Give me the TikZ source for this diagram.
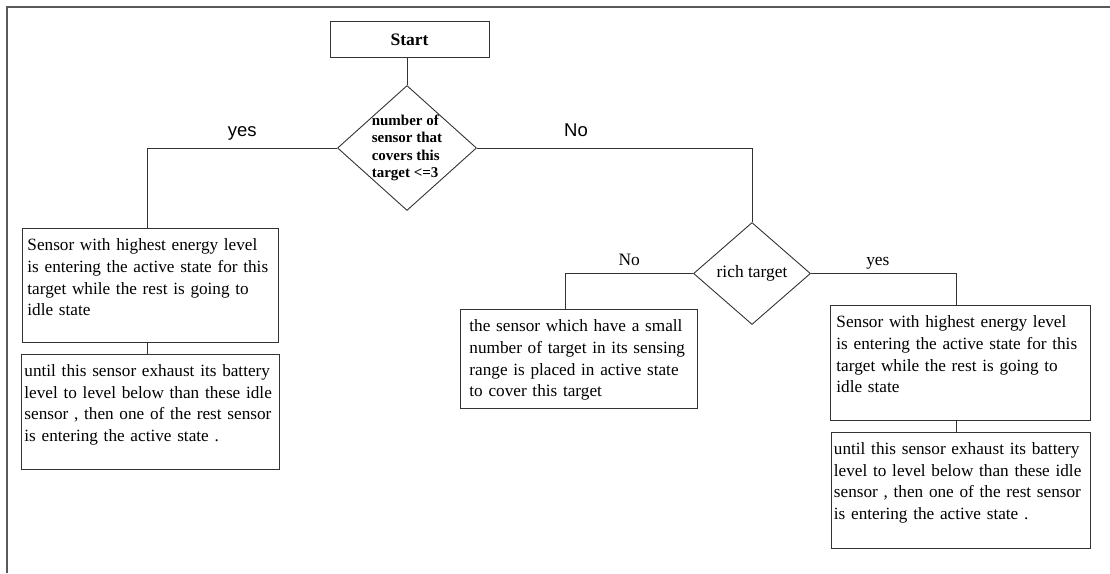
\documentclass[tikz,border=0pt]{standalone}
\usepackage{fontspec}
\setmainfont{Liberation Serif}
\newfontfamily\labelfont{Liberation Sans}
\usetikzlibrary{positioning}
\usetikzlibrary{shapes.geometric}
\tikzset{node distance=11pt, % gap between the stacked boxes
  every node/.style={align=center},
  wire/.style={draw=black!80, line width=0.9pt},
  startbox/.style={ % the Start box
    draw=black!80, line width=0.9pt, rectangle,
    minimum width=159pt, minimum height=36pt,
    font=\fontsize{17.5}{20}\selectfont\bfseries},
  decision/.style={ % diamonds, text may poke out
    draw=black!80, line width=0.9pt, diamond, inner sep=-6pt},
  textbox/.style={ % text starts at the top of the box
    draw=black!80, line width=0.9pt, rectangle, align=left,
    inner ysep=0pt, text height=22pt,
    font=\fontsize{17.2}{21.8}\selectfont},
  sanslabel/.style={font=\labelfont\fontsize{18.5}{20}\selectfont,
    anchor=base, yshift=12pt, inner sep=0pt},
  seriflabel/.style={font=\fontsize{17.4}{20}\selectfont,
    anchor=base, yshift=8pt, inner sep=0pt}}
\begin{document}
\begin{tikzpicture}[x=1pt, y=-1pt]
  \useasboundingbox (0,0) rectangle (1110,573);
  % page frame
  \draw[black!65, line width=1.2pt] (7,573) -- (7,7) -- (1110,7);

  \node [startbox] (qstart) at (409.5,39.5) {Start};
  \node [decision, minimum width=139pt, minimum height=125pt, align=left,
    font=\fontsize{15}{17.4}\selectfont\bfseries] (qcount) at (407,148)
    {number of\\sensor that\\covers this\\target <=3};
  \node [decision, minimum width=117pt, minimum height=102pt,
    font=\fontsize{17.4}{20}\selectfont] (qrich) at (752,273.5) {rich target};

  \node [textbox, anchor=north west, text width=246pt, inner xsep=5pt, text depth=92pt] (qhighL) at (22,228)
    {Sensor with highest energy level\\is entering the active state for this\\target while the rest is going to\\idle state};
  \node [textbox, below=of qhighL, text width=252pt, inner xsep=3pt, text depth=93pt] (quntilL)
    {until this sensor exhaust its battery\\level to level below than these idle\\sensor , then one of the rest sensor\\is entering the active state .};
  \node [textbox, anchor=north west, text width=219pt, inner xsep=9pt, text depth=77pt] (qsmall) at (460,309)
    {the sensor which have a small\\number of target in its sensing\\range is placed in active state\\to cover this target};
  \node [textbox, anchor=north west, text width=248pt, inner xsep=6pt, text depth=93pt] (qhighR) at (830,305)
    {Sensor with highest energy level\\is entering the active state for this\\target while the rest is going to\\idle state};
  \node [textbox, below=of qhighR, text width=253pt, inner xsep=3pt, text depth=94pt] (quntilR)
    {until this sensor exhaust its battery\\level to level below than these idle\\sensor , then one of the rest sensor\\is entering the active state .};

  \draw [wire] (qcount.north) -- (qcount.north |- qstart.south);
  \draw [wire] (qcount.west) -| node[sanslabel, pos=0.25] {yes} ([xshift=-3pt]qhighL.north);
  \draw [wire] (qcount.east) -| node[sanslabel, pos=0.18] {No} (qrich.north);
  \draw [wire] ([xshift=-3pt]qhighL.south) -- ([xshift=-3pt]quntilL.north);

  \draw [wire] (qrich.west) -| node[seriflabel, pos=0.25] {No} ([xshift=-13.5pt]qsmall.north);
  \draw [wire] (qrich.east) -| node[seriflabel, pos=0.23] {yes} ([xshift=-4pt]qhighR.north);
  \draw [wire] ([xshift=-4pt]qhighR.south) -- ([xshift=-4pt]quntilR.north);
\end{tikzpicture}
\end{document}
